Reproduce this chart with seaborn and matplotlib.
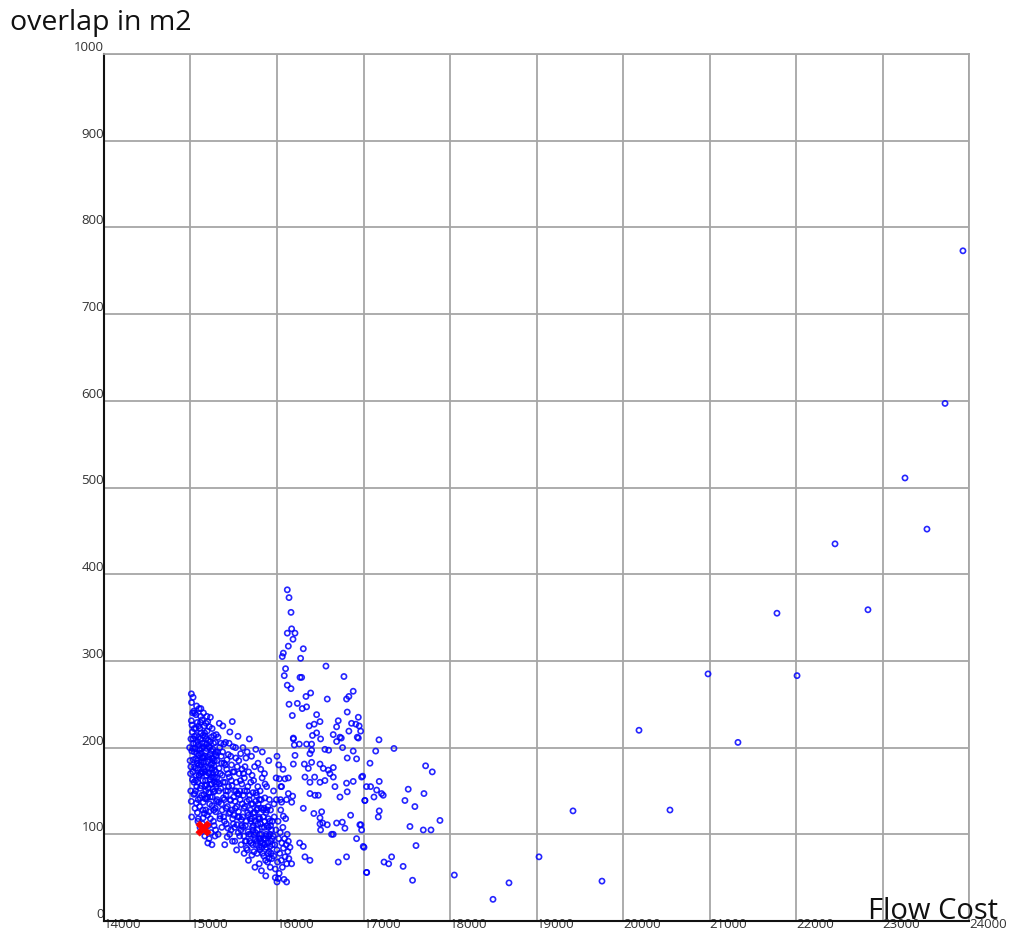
import numpy as np
import pandas as pd
import matplotlib
matplotlib.use("Agg")
import matplotlib.pyplot as plt
import seaborn as sns

# ---------------- data ----------------
# dense left column (Flow Cost ~15000-15300)
col_a_x = [15010,15020,15035,15042,15055,15061,15070,15078,15083,15090,15096,15102,15108,15113,15120,15126,15131,15138,15144,15150,15156,15161,15168,15173,15180,15186,15192,15197,15204,15210,15216,15221,15228,15233,15240,15246,15252,15258,15263,15270,15276,15282,15288,15294,15299,
           15015,15028,15040,15048,15058,15066,15074,15081,15088,15094,15100,15106,15115,15123,15129,15135,15141,15148,15154,15159,15165,15171,15178,15184,15189,15195,15201,15207,15213,15219,15224,15231,15237,15243,15249,15255,15261,15267,15273,15279,15285,15291,15297,
           15005,15012,15025,15033,15045,15052,15063,15072,15086,15099,15111,15118,15133,15146,15158,15176,15190,15205,15218,15236,15250,15266,15283,15298,
           15010,15030,15070,15120,15150,15180,15230,14990,14995,15000,15003,15038,15068,15080,15110,15140,15165,15200,15215,15248,15265,15290]
col_a_y = [231,218,205,222,199,187,214,229,176,203,191,168,222,210,183,156,199,171,214,188,146,205,178,162,196,141,219,184,153,201,170,135,192,158,212,176,143,198,165,128,185,150,206,172,138,
           196,172,160,240,150,168,193,207,140,225,180,132,193,217,145,188,162,201,175,124,190,213,150,168,199,122,177,209,148,186,163,118,180,196,133,171,187,149,110,166,193,126,158,
           210,252,240,186,178,130,238,155,115,245,142,170,232,119,225,128,236,110,224,102,222,205,98,215,
           262,258,248,245,240,228,235,200,185,170,150,146,136,125,108,112,98,90,95,88,115,105]
col_a2_x = [15004,15017,15023,15031,15044,15050,15057,15064,15076,15085,15092,15104,15112,15117,15125,15136,15143,15152,15163,15170,15182,15188,15199,15208,15214,15226,15239,15245,15257,15268,15278,15287,15293,
            15009,15027,15047,15059,15079,15097,15107,15127,15147,15167,15187,15209,15229,15253,15274,15296,15013,15036,15062,15089,15116,15142,15169,15196,15222,15247,15271]
col_a2_y = [178,226,163,210,195,147,176,222,185,160,212,199,153,236,172,205,128,183,217,141,210,157,230,189,126,207,166,188,152,214,174,130,195,
            138,199,213,162,182,168,197,180,137,156,204,171,143,182,160,191,120,242,205,118,229,190,172,143,200,158,179]

# second column (Flow Cost ~15300-15600)
col_b_x = [15305,15312,15318,15324,15330,15337,15343,15349,15356,15362,15368,15374,15380,15387,15393,15399,15405,15412,15418,15424,15430,15437,15443,15449,15455,15462,15468,15474,15480,15487,15493,15499,15505,15512,15518,15524,15530,15537,15543,15549,15555,15562,15568,15574,15580,15587,15593,15599,
           15308,15320,15333,15346,15358,15371,15383,15396,15408,15421,15433,15446,15458,15471,15483,15496,15508,15521,15533,15546,15558,15571,15583,15596]
col_b_y = [185,160,212,137,176,200,121,153,190,108,168,225,142,182,115,160,206,130,175,97,150,192,124,166,218,139,105,180,156,118,201,143,172,92,130,188,160,111,147,213,126,170,98,140,193,117,158,135,
           140,100,228,170,135,195,120,88,150,186,107,205,125,162,230,112,150,200,82,120,185,150,105,175]
col_b2_x = [15302,15315,15327,15339,15352,15365,15377,15390,15402,15415,15427,15440,15452,15465,15477,15490,15502,15515,15527,15540,15552,15565,15577,15590,
            15335,15360,15385,15410,15435,15460,15485,15510,15535,15560,15585]
col_b2_y = [165,195,150,118,205,128,160,140,180,112,132,155,100,190,128,172,122,138,150,178,102,120,162,110,
            158,182,204,145,170,140,92,108,132,146,88]

# third column (Flow Cost ~15600-15950)
col_c_x = [15603,15610,15616,15622,15628,15635,15641,15647,15653,15660,15666,15672,15678,15685,15691,15697,15703,15710,15716,15722,15728,15735,15741,15747,15753,15760,15766,15772,15778,15785,15791,15797,15803,15810,15816,15822,15828,15835,15841,15847,15853,15860,15866,15872,15878,15885,15891,15897,15903,15910,15916,15922,15928,15935,15941,15947,
           15606,15630,15655,15680,15705,15730,15755,15780,15805,15830,15855,15880,15905,15620,15645,15670,15695,15720,15745,15770,15795,15820,15845,15870,15895,15920,15945,15700,15725,15750,15775,15800,15825,15850,15875,15900,15925,15860,15810,15790]
col_c_y = [120,145,98,165,132,110,188,84,150,125,103,172,140,92,118,160,135,76,108,148,125,99,178,115,138,88,128,105,155,118,95,140,82,112,130,100,165,90,120,75,108,142,95,125,85,110,68,132,98,80,115,62,92,105,72,88,
           200,178,195,210,190,162,198,182,150,195,170,155,185,78,92,70,100,88,62,78,66,58,95,52,78,100,115,115,105,95,130,100,85,130,100,118,128,88,92,120]
col_c2_x = [15608,15618,15625,15633,15643,15651,15658,15668,15676,15683,15693,15701,15708,15718,15726,15733,15743,15751,15758,15768,15776,15783,15793,15801,15808,15818,15826,15833,15843,15851,15858,15868,15876,15883,15893,15901,15908,15918,15926,15933,15943,
            15612,15662,15712,15762,15812,15862,15912]
col_c2_y = [108,130,150,92,115,138,82,122,100,145,128,90,118,135,110,80,125,102,148,92,112,135,85,118,95,140,108,78,128,88,115,70,98,128,90,108,72,86,110,78,95,
            170,155,168,145,175,158,140]

# strip and spike around Flow Cost 16000
col_d_x = [15955,15962,15968,15975,15981,15987,15993,16000,16006,16012,16018,16025,16031,16037,16043,16050,16056,16062,16068,16075,16081,16087,16093,16100,16106,16112,16118,16125,16131,16137,16150,
           15960,15990,16020,16045,16070,16000,15965,16040,16110,15980,16000]
col_d_y = [98,75,120,88,60,105,140,82,68,115,95,55,78,102,128,70,90,62,108,84,48,95,74,118,88,66,100,80,92,72,85,
           150,165,180,155,175,190,135,140,140,50,45]

# middle cloud (Flow Cost ~16000-17000)
mid_x = [16119,16139,16162,16169,16119,16208,16185,16131,16304,16073,16061,16273,16099,16084,16266,16285,16566,16774,16119,16162,16389,16335,16881,16831,16804,16581,16139,16235,16292,16342,16812,16177,16458,16940,16372,16430,16497,16708,16689,16862,16912,16950,16831,16967,16650,16410,16458,16189,16728,16928,
         16189,16258,16200,16342,16400,16504,16689,16743,16940,16400,16554,16597,16758,16881,16208,16381,16812,16920,16189,16316,16400,16497,16535,16593,16651,16362,16323,16381,16435,16497,16554,16612,16651,16092,16131,16027,16053,16670,16804,16881,16978,17035,16131,16181,16381,16439,16477,16728,16812,17016,16053,16170,16304,16426,16516,16073,16497,16528,16497,16581,16689,16755,16851,16958,16785,16504,16978,16650,16631,16920,16997,16804,16708,17035,16323,16381,16169,16111,16015,16262,16304]
mid_y = [382,373,356,337,332,332,325,317,314,309,305,303,291,283,281,281,294,282,272,268,263,259,265,259,256,256,250,251,245,247,241,237,238,235,225,227,230,231,224,228,227,225,219,219,215,214,217,211,212,212,
         210,204,203,204,204,210,207,211,211,197,198,197,200,196,191,193,188,187,181,181,183,181,176,174,177,176,166,160,166,160,162,170,166,164,165,164,155,155,159,161,166,155,147,144,147,145,145,143,149,139,137,137,130,124,126,121,119,113,112,111,113,114,122,111,107,105,105,100,100,95,86,74,68,56,74,70,66,45,49,90,86]

# sparse points (Flow Cost ~17000-17900)
right_x = [17179,17141,17352,17075,17718,17795,16990,17182,17082,17152,17209,17228,17121,17517,17699,17016,17479,17594,17182,17171,17884,17537,17691,17780,16970,17607,17006,17325,17237,17291,17458,17037,17567]
right_y = [209,196,199,182,179,172,167,161,155,151,147,145,143,152,147,139,139,132,127,120,116,109,105,105,111,87,85,74,68,66,63,56,47]

# far outliers
far_x = [23930,23723,23260,23514,22451,22832,21780,22012,20983,21329,20185,20543,19422,19029,19757,18682,18497,18050]
far_y = [773,597,511,452,435,359,355,283,285,206,220,128,127,74,46,44,25,53]

# highlighted solution
best_x = [15140]
best_y = [107]

x_ticks = [14000,15000,16000,17000,18000,19000,20000,21000,22000,23000,24000]
y_ticks = [0,100,200,300,400,500,600,700,800,900,1000]

df = pd.DataFrame({
    "Flow Cost": col_a_x + col_a2_x + col_b_x + col_b2_x + col_c_x + col_c2_x + col_d_x + mid_x + right_x + far_x,
    "overlap": col_a_y + col_a2_y + col_b_y + col_b2_y + col_c_y + col_c2_y + col_d_y + mid_y + right_y + far_y,
})
best = pd.DataFrame({"Flow Cost": best_x, "overlap": best_y})

# ---------------- drawing ----------------
sns.set_style("white")
plt.rcParams["font.family"] = ["Open Sans", "DejaVu Sans"]

fig = plt.figure(figsize=(10.11, 9.32), dpi=100)
ax = fig.add_axes([104/1011, 11/932, 865/1011, 867/932])

sns.scatterplot(data=df, x="Flow Cost", y="overlap", ax=ax, marker="o", s=14,
                facecolors="none", edgecolors="#0000ff", linewidths=1.2, alpha=0.85,
                legend=False, zorder=3)
sns.scatterplot(data=best, x="Flow Cost", y="overlap", ax=ax, marker="X", s=120,
                color="#ff0000", edgecolor="#ff0000", linewidth=0.5, legend=False, zorder=4)

ax.set_xlim(14000, 24000)
ax.set_ylim(0, 1000)
ax.set_xticks(x_ticks)
ax.set_yticks(y_ticks)
ax.set_xticklabels([str(t) for t in x_ticks])
ax.set_yticklabels([str(t) for t in y_ticks])
ax.grid(True, color="#a6a6a6", linewidth=1.3, zorder=0)
ax.set_axisbelow(True)
ax.tick_params(axis="both", length=0, labelsize=9.5, labelcolor="#333333")
ax.tick_params(axis="x", pad=-2.5)
ax.tick_params(axis="y", pad=0)
for lab in ax.get_xticklabels():
    lab.set_ha("left")
for lab in ax.get_yticklabels():
    lab.set_va("bottom")

for side in ["left", "bottom"]:
    ax.spines[side].set_color("#111111")
    ax.spines[side].set_linewidth(1.5)
for side in ["top", "right"]:
    ax.spines[side].set_color("#a6a6a6")
    ax.spines[side].set_linewidth(1.3)

ax.set_xlabel("")
ax.set_ylabel("")
fig.text(10/1011, 1 - 23/932, "overlap in m2", fontsize=20.5, color="#111111",
         ha="left", va="center")
fig.text(998/1011, 1 - 919/932, "Flow Cost", fontsize=21, color="#111111",
         ha="right", va="baseline")

fig.savefig("out.png", dpi=100)
